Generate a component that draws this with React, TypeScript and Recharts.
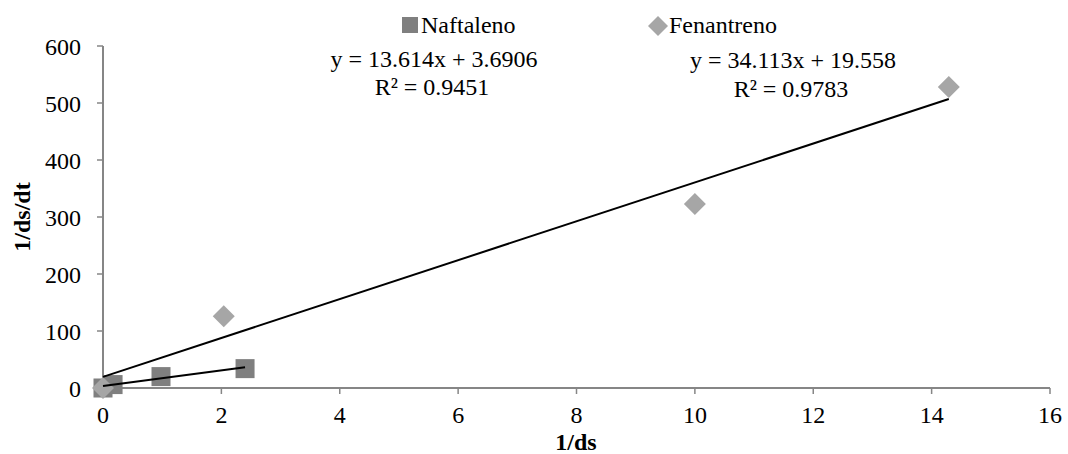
import { ScatterChart, Scatter, XAxis, YAxis } from "recharts";

// 1/ds vs 1/ds/dt
const naftX = [0, 0.17, 0.98, 2.4];
const naftY = [0, 6, 20, 34];
const fenX = [0, 2.04, 10, 14.29];
const fenY = [0, 126, 323, 528];

const xTicks = [0, 2, 4, 6, 8, 10, 12, 14, 16];
const yTicks = [0, 100, 200, 300, 400, 500, 600];

// linear trendlines as printed on the chart
const naftFit = { slope: 13.614, intercept: 3.6906, r2: 0.9451 };
const fenFit = { slope: 34.113, intercept: 19.558, r2: 0.9783 };

const font = "Liberation Serif";
const txt = { fontFamily: font, fontSize: 24 };
const axisGray = "#868686";
const naftColor = "#7f7f7f";
const fenColor = "#a6a6a6";

const toPoints = (xs: number[], ys: number[]) => xs.map((x, i) => ({ x, y: ys[i] }));

const fitLine = (xs: number[], fit: { slope: number; intercept: number }) => {
  const x1 = Math.max(...xs);
  return [
    { x: 0, y: fit.intercept },
    { x: x1, y: fit.slope * x1 + fit.intercept },
  ];
};

const Square = (props: any) => {
  const { cx, cy } = props;
  return <rect x={cx - 9.5} y={cy - 9.5} width={19} height={19} fill={naftColor} />;
};

const Diamond = (props: any) => {
  const { cx, cy } = props;
  const r = 11;
  return (
    <polygon
      points={`${cx},${cy - r} ${cx + r},${cy} ${cx},${cy + r} ${cx - r},${cy}`}
      fill={fenColor}
    />
  );
};

const NoDot = () => <g />;

const eq = (fit: { slope: number; intercept: number }) =>
  `y = ${fit.slope}x + ${fit.intercept}`;

export default function App() {
  return (
    <div style={{ position: "absolute", left: 0, top: 0, width: 1068, height: 454, background: "#fff", fontFamily: font }}>
      <ScatterChart
        width={1068}
        height={454}
        margin={{ top: 46, right: 18, bottom: 6, left: 0 }}
      >
        <XAxis
          type="number"
          dataKey="x"
          domain={[0, 16]}
          ticks={xTicks}
          height={60}
          axisLine={{ stroke: axisGray, strokeWidth: 2 }}
          tickLine={{ stroke: axisGray, strokeWidth: 1.5 }}
          tickSize={6}
          tickMargin={12}
          tick={{ fill: "#000", fontSize: 24, fontFamily: font, style: txt }}
        />
        <YAxis
          type="number"
          dataKey="y"
          domain={[0, 600]}
          ticks={yTicks}
          width={103}
          axisLine={{ stroke: axisGray, strokeWidth: 2 }}
          tickLine={{ stroke: axisGray, strokeWidth: 1.5 }}
          tickSize={6}
          tickMargin={16}
          tick={{ fill: "#000", fontSize: 24, fontFamily: font, style: txt }}
        />
        <Scatter
          name="Naftaleno"
          data={toPoints(naftX, naftY)}
          shape={Square}
          isAnimationActive={false}
        />
        <Scatter
          name="Fenantreno"
          data={toPoints(fenX, fenY)}
          shape={Diamond}
          isAnimationActive={false}
        />
        <Scatter
          data={fitLine(naftX, naftFit)}
          line={{ stroke: "#000", strokeWidth: 2 }}
          shape={NoDot}
          legendType="none"
          isAnimationActive={false}
        />
        <Scatter
          data={fitLine(fenX, fenFit)}
          line={{ stroke: "#000", strokeWidth: 2 }}
          shape={NoDot}
          legendType="none"
          isAnimationActive={false}
        />

        {/* legend */}
        <rect x={402} y={17} width={16} height={16} fill={naftColor} />
        <text x={421} y={33} style={txt}>Naftaleno</text>
        <polygon points="658,16 668,26 658,36 648,26" fill={fenColor} />
        <text x={669} y={33} style={txt}>Fenantreno</text>

        {/* trendline equations */}
        <text x={434} y={67} textAnchor="middle" style={txt}>{eq(naftFit)}</text>
        <text x={432} y={95} textAnchor="middle" style={txt}>{`R² = ${naftFit.r2}`}</text>
        <text x={793} y={68} textAnchor="middle" style={txt}>{eq(fenFit)}</text>
        <text x={791} y={97} textAnchor="middle" style={txt}>{`R² = ${fenFit.r2}`}</text>

        {/* axis titles */}
        <text x={576} y={450} textAnchor="middle" style={{ ...txt, fontWeight: "bold" }}>
          1/ds
        </text>
        <text
          x={30}
          y={217}
          textAnchor="middle"
          style={{ ...txt, fontWeight: "bold" }}
          transform="rotate(-90 30 217)"
        >
          1/ds/dt
        </text>
      </ScatterChart>
    </div>
  );
}
